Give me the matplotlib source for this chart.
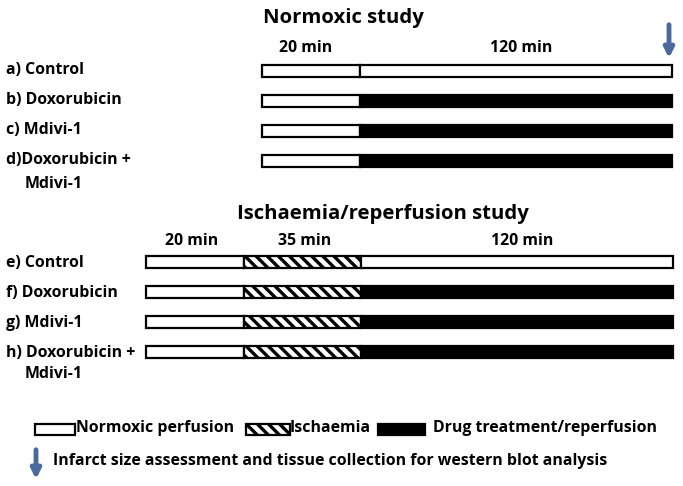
import matplotlib
matplotlib.use("Agg")
import matplotlib.pyplot as plt

plt.rcParams["font.family"] = ["Open Sans", "DejaVu Sans"]
plt.rcParams["font.weight"] = "bold"
plt.rcParams["hatch.linewidth"] = 2.4

# protocol phases (minutes) and group labels
normoxic_groups = ["a) Control", "b) Doxorubicin", "c) Mdivi-1", "d)Doxorubicin +"]
normoxic_phases = [20, 120]
normoxic_fill = [["white", "white"], ["white", "black"],
                 ["white", "black"], ["white", "black"]]

ir_groups = ["e) Control", "f) Doxorubicin", "g) Mdivi-1", "h) Doxorubicin +"]
ir_phases = [20, 35, 120]
ir_fill = [["white", "hatch", "white"], ["white", "hatch", "black"],
           ["white", "hatch", "black"], ["white", "hatch", "black"]]

legend_items = ["Normoxic perfusion", "Ischaemia", "Drug treatment/reperfusion"]
arrow_note = "Infarct size assessment and tissue collection for western blot analysis"

# schematic drawn length of each phase (not to scale)
phase_len = {20: 98, 35: 117, 120: 312}
blue = "#4A6A9C"
fs = 11.4
title_fs = 14.6

fig = plt.figure(figsize=(6.83, 4.86), dpi=100)
ax = fig.add_axes([0, 0, 1, 1])
ax.set_xlim(0, 683)
ax.set_ylim(486, 0)
ax.axis("off")


def draw_row(y, start, phases, fills):
    x = start
    for p, f in zip(phases, fills):
        w = phase_len[p]
        if f == "hatch":
            ax.barh(y, w, left=x, height=12, color="white", edgecolor="black",
                    hatch="\\\\\\", linewidth=1.6)
        else:
            ax.barh(y, w, left=x, height=12, color=f, edgecolor="black",
                    linewidth=1.6)
        x += w


def phase_labels(y, start, phases, offsets):
    x = start
    for p, off in zip(phases, offsets):
        ax.text(x + phase_len[p] / 2 + off, y, f"{p} min", ha="center",
                va="center", fontsize=fs, fontweight="bold")
        x += phase_len[p]


# Normoxic study
ax.text(343, 18, "Normoxic study", ha="center", va="center", fontsize=title_fs,
        fontweight="bold")
phase_labels(48, 262, normoxic_phases, [-5, 5])
for i, (g, fills) in enumerate(zip(normoxic_groups, normoxic_fill)):
    y = 71 + 30 * i
    draw_row(y, 262, normoxic_phases, fills)
    ax.text(6, y - 1, g, ha="left", va="center", fontsize=fs, fontweight="bold")
ax.text(25, 184, "Mdivi-1", ha="left", va="center", fontsize=fs, fontweight="bold")
ax.annotate("", xy=(669, 61), xytext=(669, 22),
            arrowprops=dict(arrowstyle="-|>", color=blue, lw=3.5,
                            mutation_scale=14))

# Ischaemia/reperfusion study
ax.text(383, 214, "Ischaemia/reperfusion study", ha="center", va="center",
        fontsize=title_fs, fontweight="bold")
phase_labels(241, 146, ir_phases, [-3, 2, 5])
for i, (g, fills) in enumerate(zip(ir_groups, ir_fill)):
    y = 262 + 30 * i
    draw_row(y, 146, ir_phases, fills)
    ax.text(6, y + 1, g, ha="left", va="center", fontsize=fs, fontweight="bold")
ax.text(25, 374, "Mdivi-1", ha="left", va="center", fontsize=fs, fontweight="bold")

# legend
ax.barh(429, 40, left=35, height=11, color="white", edgecolor="black", linewidth=1.6)
ax.text(76, 428, legend_items[0], ha="left", va="center", fontsize=fs,
        fontweight="bold")
ax.barh(429, 44, left=246, height=11, color="white", edgecolor="black",
        hatch="\\\\\\", linewidth=1.6)
ax.text(290, 428, legend_items[1], ha="left", va="center", fontsize=fs,
        fontweight="bold")
ax.barh(429, 47, left=378, height=11, color="black", edgecolor="black", linewidth=1.6)
ax.text(433, 428, legend_items[2], ha="left", va="center", fontsize=fs,
        fontweight="bold")

ax.annotate("", xy=(36, 482), xytext=(36, 447),
            arrowprops=dict(arrowstyle="-|>", color=blue, lw=3.5,
                            mutation_scale=14))
ax.text(53, 461, arrow_note, ha="left", va="center", fontsize=fs,
        fontweight="bold")

fig.savefig("out.png", dpi=100)
